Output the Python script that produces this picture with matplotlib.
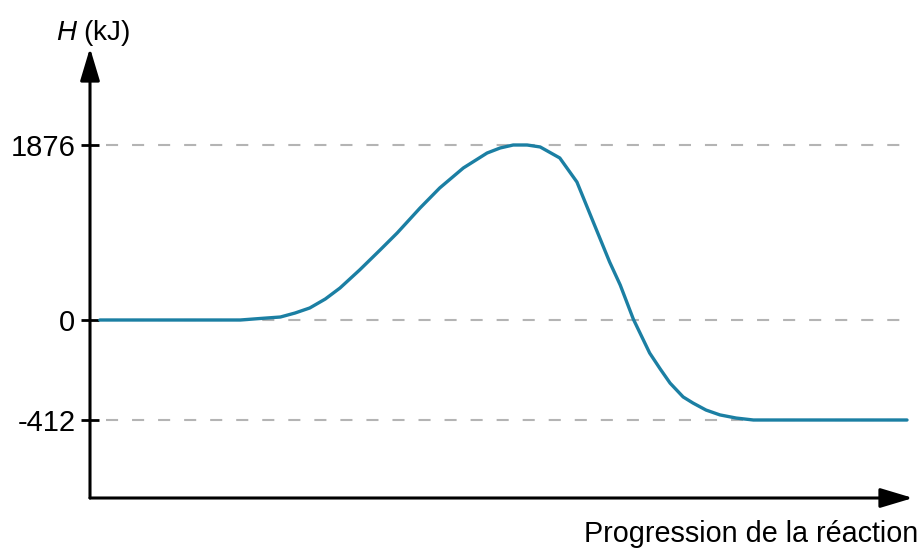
import matplotlib
matplotlib.use('Agg')
import matplotlib.pyplot as plt
import numpy as np

# ---------------------------------------------------------
# Data
# ---------------------------------------------------------
progress = [1.2, 18.4, 20.8, 23.3, 25.1, 26.9, 28.8, 30.6, 33.0, 35.5,
            37.6, 40.4, 42.8, 45.7, 48.6, 50.2, 51.8, 53.5, 55.1, 57.5,
            59.6, 61.6, 63.6, 64.9, 66.5, 68.5, 69.8, 71.0, 72.6, 73.8,
            75.4, 77.1, 79.1, 81.2, 100]
enthalpy = [0, 0, 16, 32, 75, 129, 225, 343, 536, 750,
            933, 1201, 1415, 1630, 1790, 1844, 1876, 1876, 1855, 1737,
            1479, 1050, 622, 375, 10, -136, -202, -260, -317, -342,
            -371, -391, -404, -412, -412]
levels = [1876, 0, -412]
level_labels = ['1876', '0', '-412']

plt.rcParams['font.family'] = ['Liberation Sans', 'DejaVu Sans']
plt.rcParams['mathtext.fontset'] = 'custom'
plt.rcParams['mathtext.rm'] = 'Liberation Sans'
plt.rcParams['mathtext.it'] = 'Liberation Sans:italic'

curve_color = '#1b7fa3'
dash_color = '#b4b4b4'


# schematic axis: the positive and negative parts use different px/kJ
def forward(y):
    y = np.asarray(y, dtype=float)
    return np.where(y >= 0, y / 1876 * 175, y / 412 * 100)


def inverse(p):
    p = np.asarray(p, dtype=float)
    return np.where(p >= 0, p * 1876 / 175, p * 412 / 100)


# ---------------------------------------------------------
# Figure
# ---------------------------------------------------------
W, H = 924, 548
fig = plt.figure(figsize=(W / 100, H / 100), dpi=100)
ax = fig.add_axes([90 / W, (H - 498) / H, (913 - 90) / W, (498 - 48) / H])
ax.set_yscale('function', functions=(forward, inverse))
ax.set_xlim(0, 823 / 8.17)
ax.set_ylim(inverse(-178), inverse(272))

for lv in levels:
    ax.plot([2, 100], [lv, lv], color=dash_color, lw=1.5,
            dashes=(5.8, 6.7), zorder=1)

ax.plot(progress, enthalpy, color=curve_color, lw=2.4,
        solid_joinstyle='round', solid_capstyle='round', zorder=3)

for s in ax.spines.values():
    s.set_visible(False)
ax.set_xticks([])
ax.set_yticks(levels)
ax.set_yticklabels(level_labels, fontsize=21)
ax.tick_params(axis='y', direction='inout', length=13, width=2,
               pad=4, colors='black')

# axis arrows
arrow_kw = dict(arrowstyle='-|>,head_length=1.0,head_width=0.3',
                color='black', lw=2.2, mutation_scale=20,
                shrinkA=0, shrinkB=0)
ax.annotate('', xy=(0, 1), xytext=(0, 0), xycoords='axes fraction',
            arrowprops=arrow_kw, annotation_clip=False)
ax.annotate('', xy=(1, 0), xytext=(0, 0), xycoords='axes fraction',
            arrowprops=arrow_kw, annotation_clip=False)

fig.text(93 / W, 1 - 33 / H, '$H$ (kJ)', fontsize=20,
         ha='center', va='center')
fig.text(918 / W, 1 - 542 / H, 'Progression de la réaction', fontsize=20.7,
         ha='right', va='baseline')

fig.savefig('out.png', dpi=100)
